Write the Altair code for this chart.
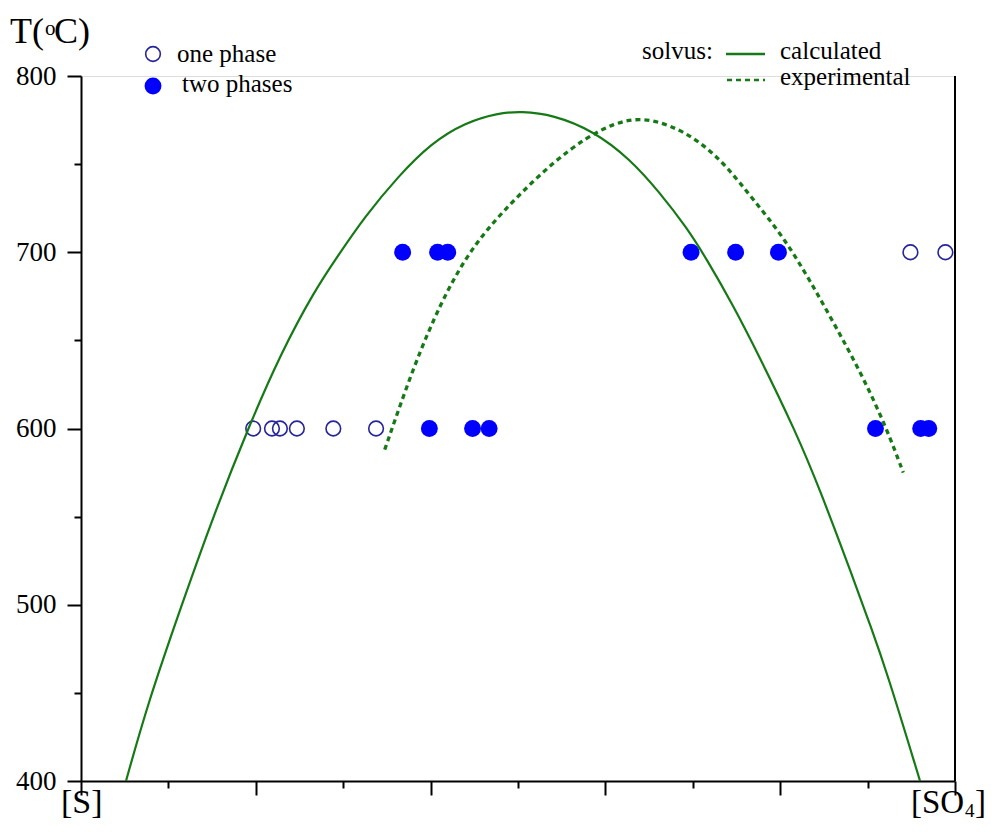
import altair as alt
import pandas as pd

# ---- data ----
calc_x = [0.0515, 0.0764, 0.1145, 0.1527, 0.191, 0.229, 0.267, 0.294, 0.3245, 0.3627, 0.401, 0.439,
          0.477, 0.504, 0.540, 0.586, 0.628, 0.662, 0.693, 0.716, 0.746, 0.777, 0.817, 0.845,
          0.8835, 0.9026, 0.922, 0.960]
calc_T = [400, 444, 499, 552, 600, 643, 678, 698, 720, 743, 762, 773.5,
          779, 780, 778, 769, 753, 734, 714, 696, 670, 640, 599, 566,
          515, 489, 462, 400]

exp_x = [0.3475, 0.3818, 0.4124, 0.439, 0.466, 0.500, 0.540, 0.578, 0.609, 0.639, 0.6735, 0.708,
         0.7385, 0.769, 0.8033, 0.834, 0.8645, 0.895, 0.9218, 0.9408]
exp_T = [588, 637, 672, 696, 714, 732, 751, 765, 773, 776.5, 772.5, 763,
         749, 730, 709, 684, 657, 629, 600, 575]

one_phase_x = [0.197, 0.2185, 0.2276, 0.247, 0.2887, 0.3376, 0.949, 0.989]
one_phase_T = [600, 600, 600, 600, 600, 600, 700, 700]

two_phase_x = [0.3986, 0.448, 0.467, 0.909, 0.9607, 0.970, 0.368, 0.408, 0.4196, 0.698, 0.749, 0.798]
two_phase_T = [600, 600, 600, 600, 600, 600, 700, 700, 700, 700, 700, 700]

x_ticks = [0.0, 0.1, 0.2, 0.3, 0.4, 0.5, 0.6, 0.7, 0.8, 0.9, 1.0]
y_ticks = [400, 450, 500, 550, 600, 650, 700, 750, 800]

# ---- style ----
SERIF = "Liberation Serif"
GREEN = "#157a15"
NAVY = "#25259a"
BLUE = "#0000ff"

calc_df = pd.DataFrame({"x": calc_x, "T": calc_T})
exp_df = pd.DataFrame({"x": exp_x, "T": exp_T})
one_df = pd.DataFrame({"x": one_phase_x, "T": one_phase_T})
two_df = pd.DataFrame({"x": two_phase_x, "T": two_phase_T})
dummy = pd.DataFrame({"a": [0]})

xscale = alt.Scale(domain=[0, 1], nice=False, zero=False)
yscale = alt.Scale(domain=[400, 800], nice=False, zero=False)

xaxis = alt.Axis(values=x_ticks, labels=False, title=None, grid=False,
                 domainColor="black", domainWidth=2, tickColor="black", tickWidth=2,
                 tickSize={"condition": {"test": "round(datum.value*10) % 2 === 1", "value": 7}, "value": 14})
yaxis = alt.Axis(values=y_ticks, title=None, grid=False,
                 domainColor="black", domainWidth=2, tickColor="black", tickWidth=2,
                 tickSize={"condition": {"test": "datum.value % 100 !== 0", "value": 7}, "value": 14},
                 labelExpr="datum.value % 100 === 0 ? datum.label : ''",
                 labelFont=SERIF, labelFontSize=27, labelColor="black", labelPadding=11)

X = alt.X("x:Q", scale=xscale, axis=xaxis)
Y = alt.Y("T:Q", scale=yscale, axis=yaxis)

open_pts = alt.Chart(one_df).mark_point(filled=False, shape="circle", size=215,
                                        stroke=NAVY, strokeWidth=1.6, opacity=1).encode(x=X, y=Y)
fill_pts = alt.Chart(two_df).mark_circle(size=285, color=BLUE, opacity=1).encode(x=X, y=Y)

calc_line = alt.Chart(calc_df).mark_line(color=GREEN, strokeWidth=2.2,
                                         interpolate="basis").encode(x=X, y=Y)
exp_line = alt.Chart(exp_df).mark_line(color=GREEN, strokeWidth=3.3, strokeDash=[5, 4],
                                       interpolate="basis").encode(x=X, y=Y)

right_border = alt.Chart(dummy).mark_rule(color="black", strokeWidth=2).encode(
    x=alt.datum(1, scale=xscale), y=alt.datum(400, scale=yscale), y2=alt.datum(800))


def txt(s, x, y, size, align="left", baseline="alphabetic"):
    return alt.Chart(dummy).mark_text(text=s, font=SERIF, fontSize=size, color="black",
                                      align=align, baseline=baseline).encode(
        x=alt.value(x), y=alt.value(y))


texts = [
    txt("T(", -71, -33, 36),
    txt("o", -36, -41, 21),
    txt("C)", -27, -33, 36),
    txt("one phase", 96, -14, 25),
    txt("two phases", 101, 16, 25),
    txt("solvus:", 561, -17, 25),
    txt("calculated", 699, -17, 25),
    txt("experimental", 699, 9, 25),
    txt("[S]", -20, 737, 34),
    txt("[SO", 830, 737, 33),
    txt("4", 884, 741, 19),
    txt("]", 894, 737, 33),
]

leg_open = alt.Chart(dummy).mark_point(filled=False, shape="circle", size=215, stroke=NAVY,
                                       strokeWidth=1.6, opacity=1).encode(
    x=alt.value(72), y=alt.value(-22))
leg_fill = alt.Chart(dummy).mark_circle(size=285, color=BLUE, opacity=1).encode(
    x=alt.value(72), y=alt.value(10))
leg_solid = alt.Chart(dummy).mark_rule(color=GREEN, strokeWidth=2.5).encode(
    x=alt.value(645), x2=alt.value(684), y=alt.value(-22))
leg_dash = alt.Chart(dummy).mark_rule(color=GREEN, strokeWidth=2.5, strokeDash=[5, 4]).encode(
    x=alt.value(646), x2=alt.value(684), y=alt.value(4))

chart = alt.layer(
    open_pts, fill_pts, calc_line, exp_line, right_border,
    leg_open, leg_fill, leg_solid, leg_dash, *texts
).properties(
    width=874, height=705,
    autosize=alt.AutoSizeParams(type="none"),
    padding={"left": 73, "top": 68, "right": 31, "bottom": 42},
    background="white",
).configure_view(strokeOpacity=0).configure(font=SERIF)

chart.save("out.html", embed_options={"renderer": "svg", "actions": False})
